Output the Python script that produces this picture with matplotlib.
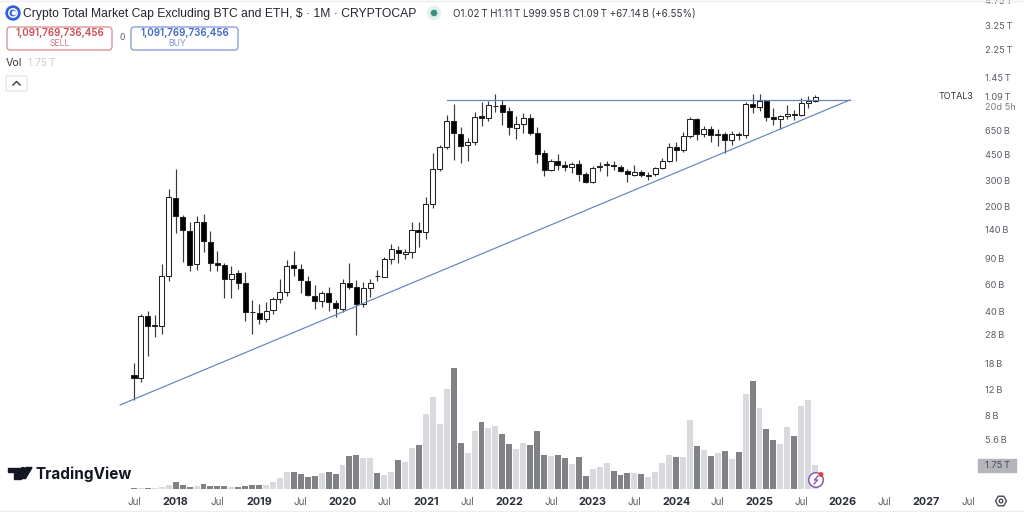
import matplotlib
matplotlib.use("Agg")
import matplotlib.pyplot as plt
from matplotlib.patches import FancyBboxPatch, Circle, Polygon, Rectangle
import numpy as np

plt.rcParams['font.family'] = ['Inter', 'DejaVu Sans']

# monthly candles, Jul 2017 .. Sep 2025, in billions
opens = [15.0, 14.25, 37.3, 32.1, 31.8, 69.0, 230, 172, 138, 83,
         157, 117, 84, 82, 65.5, 72, 61.8, 39.7, 38.9, 35.6,
         40.8, 48, 54, 81, 76.5, 64, 51, 46.8, 53.4, 45.6,
         41.3, 62, 58, 45, 57, 69, 68.3, 89.6, 103, 96,
         100, 140, 136, 210, 360, 500, 746, 617, 516, 544,
         810, 780, 940, 950, 870, 670, 710, 787, 626, 456,
         354, 405, 380, 371, 384, 332, 291, 369, 380, 380,
         369, 345, 328, 343, 322, 330, 361, 405, 500, 477,
         597, 774, 614, 664, 603, 608, 558, 609, 603, 970,
         930, 1020, 798, 770, 810, 834, 818, 985, 1020]
closes = [14.25, 37.3, 32.1, 32.4, 68.6, 231, 174, 140, 81, 157,
          118, 84, 82, 66, 71.6, 62, 39.5, 39.3, 35.6, 40.4,
          48, 53.6, 80, 77.5, 65, 51.4, 47, 53.4, 46, 41.8,
          61.6, 58, 45, 57, 61.6, 68.6, 89.6, 104, 98, 99,
          140, 136, 208, 357, 500, 746, 622, 512, 544, 798,
          786, 950, 947, 860, 677, 710, 787, 626, 450, 354,
          405, 380, 369, 384, 332, 291, 361, 376, 384, 373,
          345, 332, 343, 326, 328, 361, 405, 500, 477, 594,
          774, 614, 658, 603, 608, 558, 608, 603, 970, 930,
          1016, 798, 770, 810, 834, 826, 985, 1016, 1090]
highs = [18.1, 38.4, 40.4, 37.8, 82.4, 262, 355, 176, 157, 174,
         178, 137, 102, 84.5, 80.7, 75.5, 73, 47.7, 45, 46.5,
         50.2, 66, 88, 101, 83.5, 68.6, 60, 55, 58, 47.7,
         66, 84.5, 64.3, 63, 65.6, 75.5, 93, 113, 110, 105,
         157, 157, 234, 458, 517, 822, 970, 687, 572, 860,
         1000, 1016, 1131, 1035, 925, 810, 840, 830, 687, 479,
         420, 447, 402, 400, 410, 340, 372, 400, 402, 405,
         380, 356, 380, 352, 339, 371, 426, 530, 544, 634,
         790, 780, 695, 695, 658, 634, 640, 634, 995, 1142,
         1131, 1035, 918, 822, 950, 890, 1066, 1105, 1110]
lows = [10.3, 13.4, 20.2, 26.8, 28.2, 64.2, 133, 85, 74, 75,
        100, 74, 74, 48.9, 48.9, 56, 34.4, 28.4, 33, 34,
        38.4, 45.5, 50.7, 69, 53.4, 50.7, 41.5, 43, 40, 36.9,
        39.7, 56, 27.8, 43, 50, 64, 67.7, 83.5, 84.5, 89,
        91.5, 108, 122, 195, 345, 490, 410, 391, 404, 517,
        696, 746, 860, 700, 606, 565, 622, 606, 395, 320,
        345, 354, 345, 334, 297, 290, 288, 345, 320, 354,
        339, 293, 322, 318, 300, 322, 356, 398, 404, 467,
        572, 558, 585, 544, 510, 459, 517, 558, 578, 840,
        873, 746, 700, 658, 770, 760, 808, 918, 1000]
# volume, in trillions
volumes = [0.05, 0.05, 0.07, 0.07, 0.12, 0.27, 0.49, 0.30, 0.17, 0.20,
           0.37, 0.20, 0.20, 0.20, 0.15, 0.15, 0.22, 0.27, 0.27, 0.30,
           0.52, 0.79, 1.26, 1.26, 1.13, 0.91, 0.94, 1.16, 1.26, 1.13,
           1.77, 2.44, 2.51, 2.32, 2.32, 1.21, 1.06, 1.28, 2.14, 2.02,
           3.01, 3.23, 5.57, 6.83, 4.78, 7.42, 8.97, 3.43, 2.64, 4.29,
           4.98, 4.54, 4.68, 4.07, 3.35, 2.96, 3.43, 3.25, 4.29, 2.49,
           2.46, 2.54, 2.29, 1.85, 2.34, 0.99, 1.45, 1.60, 1.92, 1.36,
           1.06, 1.16, 1.16, 1.11, 0.89, 1.23, 1.90, 2.51, 2.34, 2.37,
           5.08, 3.18, 2.88, 2.46, 2.64, 2.79, 2.22, 2.74, 7.02, 8.01,
           5.96, 4.44, 3.65, 3.35, 4.58, 3.94, 6.14, 6.56, 1.75]

# the two drawn trend lines (month index, billions)
rising_x = [-2, 103]
rising_y = [9.47, 1034]
flat_x = [45, 103]
flat_y = [1034, 1034]

price_ticks = [4750, 3250, 2250, 1450, 1090, 650, 450, 300, 200, 140, 90, 60, 40, 28, 18, 12, 8, 5.6]
price_labels = ['4.75\u2009T', '3.25\u2009T', '2.25\u2009T', '1.45\u2009T', '1.09\u2009T', '650\u2009B',
                '450\u2009B', '300\u2009B', '200\u2009B', '140\u2009B', '90\u2009B', '60\u2009B', '40\u2009B',
                '28\u2009B', '18\u2009B', '12\u2009B', '8\u2009B', '5.6\u2009B']
month_ticks = list(range(0, 121, 6))
month_labels = ['Jul', '2018', 'Jul', '2019', 'Jul', '2020', 'Jul', '2021', 'Jul', '2022', 'Jul',
                '2023', 'Jul', '2024', 'Jul', '2025', 'Jul', '2026', 'Jul', '2027', 'Jul']

LINE = '#6384bf'
TXT = '#5a5e66'

fig = plt.figure(figsize=(10.24, 5.12), dpi=100)

# volume goes behind the price pane, same x scale
ax_vol = fig.add_axes([0, 23 / 512, 978 / 1024, 189 / 512])
ax = fig.add_axes([0, 22 / 512, 978 / 1024, 490 / 512])
ax.patch.set_alpha(0)

x = np.arange(len(opens))
o = np.array(opens)
c = np.array(closes)
down = c < o

xlim = ((0 - 134) / 6.95, (978 - 134) / 6.95)
ax_vol.bar(x, volumes, width=0.86, color=['#808285' if d else '#d8dade' for d in down])
ax_vol.set_xlim(xlim)
ax_vol.set_ylim(0, 13.97)
ax_vol.axis('off')

ax.vlines(x, lows, highs, color='#3a3a3a', lw=0.85, zorder=2)
ax.bar(x, np.abs(c - o), bottom=np.minimum(o, c), width=0.72,
       color=['black' if d else 'white' for d in down], edgecolor='#222222', lw=0.75, zorder=3)
ax.plot(rising_x, rising_y, color=LINE, lw=0.85, zorder=4)
ax.plot(flat_x, flat_y, color=LINE, lw=0.85, zorder=4)

ax.set_yscale('log')
ax.set_xlim(xlim)
ax.set_ylim(2.56, 4814)
ax.set_yticks(price_ticks)
ax.set_yticklabels(price_labels)
ax.minorticks_off()
ax.yaxis.tick_right()
ax.tick_params(axis='y', length=0, pad=4.7, labelsize=6.7, labelcolor=TXT)
ax.set_xticks(month_ticks)
ax.set_xticklabels(month_labels)
ax.tick_params(axis='x', length=0, pad=5, labelsize=7.0, labelcolor=TXT)
for t in ax.get_xticklabels():
    if t.get_text() != 'Jul':
        t.set_fontweight('bold')
        t.set_color('#2a2e39')
        t.set_fontsize(7.8)
for s in ax.spines.values():
    s.set_visible(False)

# everything around the chart, in pixel coordinates
ui = fig.add_axes([0, 0, 1, 1])
ui.set_xlim(0, 1024)
ui.set_ylim(512, 0)
ui.axis('off')

ui.add_patch(Circle((13, 13), 7, color='#2f5fe0'))
ui.add_patch(Circle((13, 13), 4.2, fill=False, ec='white', lw=1.1))
ui.add_patch(Circle((14, 13), 1.6, color='white'))
ui.text(23, 13.5, 'Crypto Total Market Cap Excluding BTC and ETH, $ · 1M · CRYPTOCAP',
        fontsize=8.7, family=['Liberation Sans', 'DejaVu Sans'], color='#23262e', va='center')
ui.add_patch(Circle((434, 13), 6.5, color='#e3f2ee'))
ui.add_patch(Circle((434, 13), 2.6, color='#3f9080'))
ui.text(453, 13.5, 'O1.02\u2009T H1.11\u2009T L999.95\u2009B C1.09\u2009T +67.14\u2009B (+6.55%)',
        fontsize=7.0, color='#33363f', va='center')

ui.add_patch(FancyBboxPatch((7, 27), 105, 23, boxstyle='round,pad=0,rounding_size=3.5',
                            fc='white', ec='#d9888c', lw=0.9))
ui.text(59.5, 33.5, '1,091,769,736,456', fontsize=7.1, fontweight='semibold', color='#cf4a52',
        ha='center', va='center')
ui.text(59.5, 44, 'SELL', fontsize=6.2, color='#cf7a80', ha='center', va='center')
ui.text(122, 38, '0', fontsize=6.2, color=TXT, ha='center', va='center')
ui.add_patch(FancyBboxPatch((131, 27), 107, 23, boxstyle='round,pad=0,rounding_size=3.5',
                            fc='white', ec='#7d95d6', lw=0.9))
ui.text(184.5, 33.5, '1,091,769,736,456', fontsize=7.1, fontweight='semibold', color='#3f66c9',
        ha='center', va='center')
ui.text(177.5, 44, 'BUY', fontsize=6.2, color='#7b92cf', ha='center', va='center')

ui.text(6, 63.5, 'Vol', fontsize=7.7, color='#33363f', va='center')
ui.text(28, 63.5, '1.75\u2009T', fontsize=7.4, color='#c9ccd2', va='center')
ui.add_patch(FancyBboxPatch((6, 76), 21, 15, boxstyle='round,pad=0,rounding_size=2',
                            fc='white', ec='#e3e4e8', lw=0.9))
ui.plot([13, 16.5, 20], [85, 81.5, 85], color='#33363f', lw=1)

ui.text(973.5, 96.5, 'TOTAL3', fontsize=6.4, color='#33363f', ha='right', va='center')
ui.text(985, 107, '20d 5h', fontsize=6.6, color='#7a7e86', va='center')
ui.add_patch(Rectangle((978, 459), 38, 13, color='#b3b5ba'))
ui.text(985, 465.5, '1.75\u2009T', fontsize=6.7, color='#43464e', va='center')

# TradingView logo
ui.add_patch(Polygon([(8, 467.5), (20.5, 467.5), (20.5, 478.5), (14, 478.5), (14, 472), (8, 472)], color='#131722'))
ui.add_patch(Circle((23, 470), 2.4, color='#131722'))
ui.add_patch(Polygon([(26, 467.5), (32, 467.5), (25.5, 478.5), (19.5, 478.5)], color='#131722'))
ui.text(36, 474, 'TradingView', fontsize=11, fontweight='bold', color='#131722', va='center')

# lightning button
ui.add_patch(Circle((816, 480), 7.3, fc='white', ec='#8a5bb5', lw=1.1))
ui.plot([818, 814.5, 817.5, 814], [476, 480, 480, 484], color='#8a5bb5', lw=1)
ui.add_patch(Circle((821, 474.5), 1.8, color='#e04545'))

# settings icon
ang = np.deg2rad(np.arange(0, 360, 60))
ui.add_patch(Polygon(np.c_[1001 + 5.5 * np.cos(ang), 501 + 5.5 * np.sin(ang)], fill=False, ec='#4a4d55', lw=1))
ui.add_patch(Circle((1001, 501), 1.8, fill=False, ec='#4a4d55', lw=1))

ui.plot([0, 1024], [0.5, 0.5], color='#eeeeef', lw=1)
ui.plot([0, 1024], [510.5, 510.5], color='#eeeeef', lw=1)

fig.savefig('out.png', dpi=100)
